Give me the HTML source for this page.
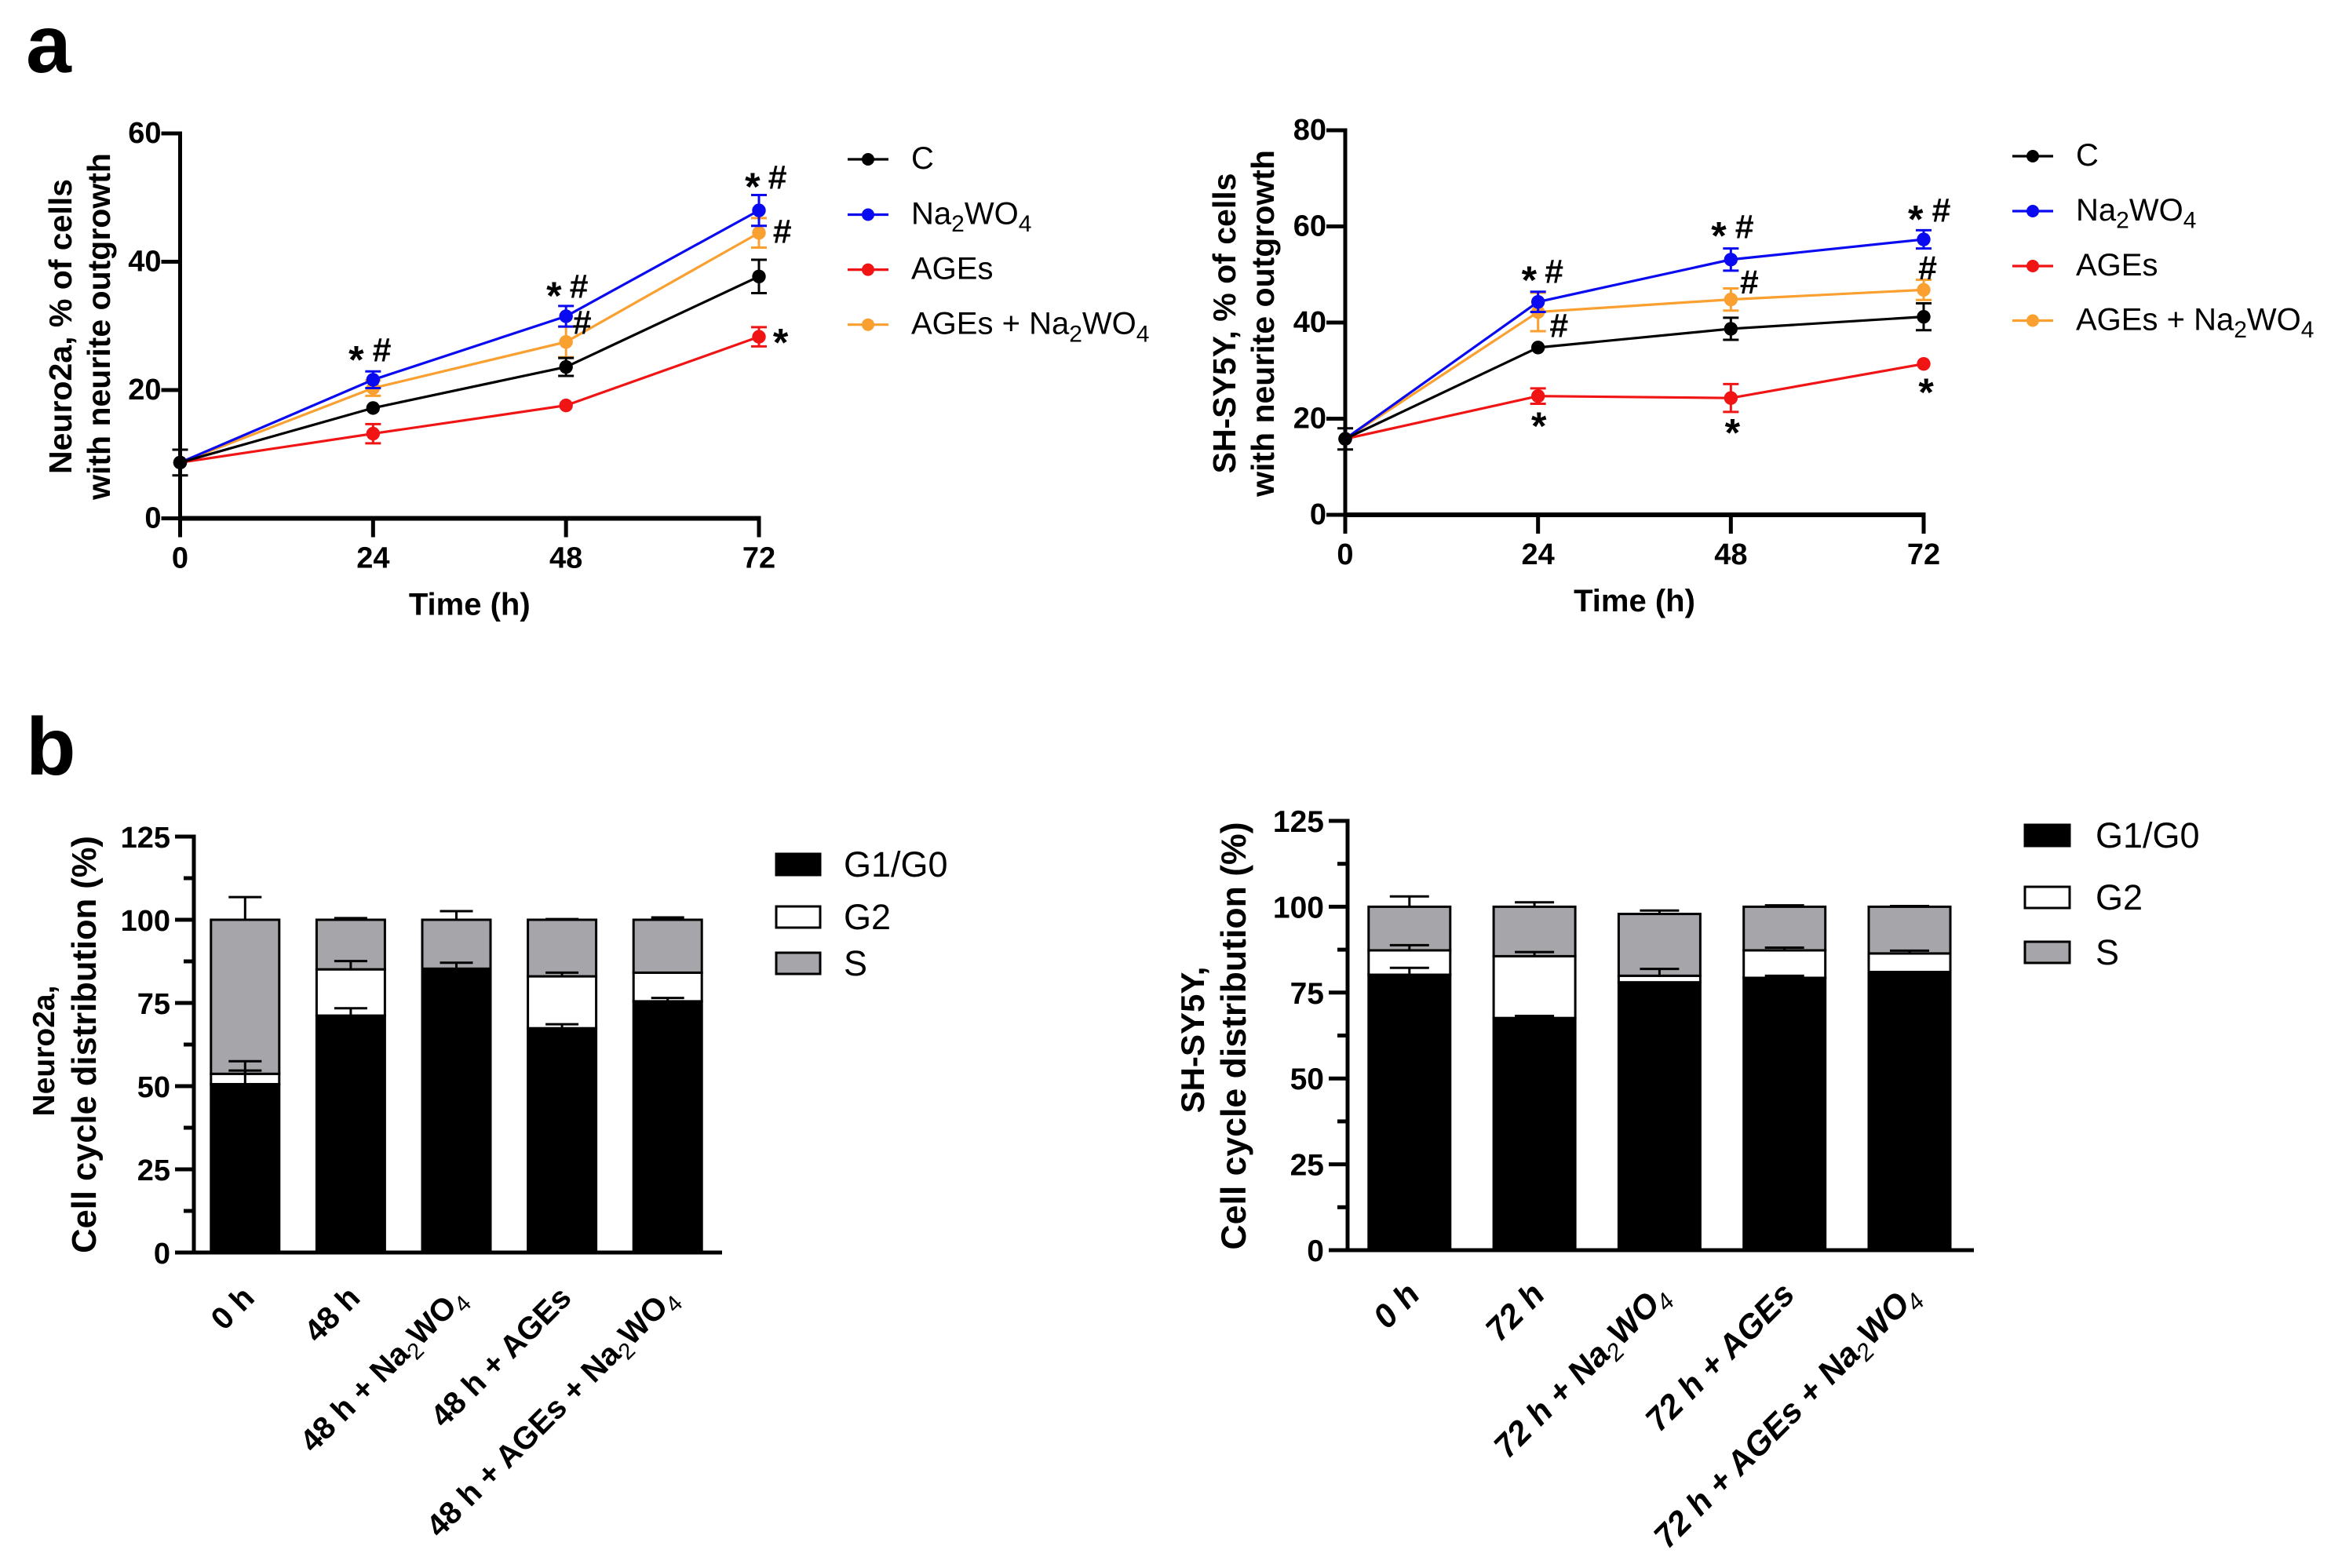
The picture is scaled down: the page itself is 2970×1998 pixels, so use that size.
<!DOCTYPE html>
<html lang="en">
<head>
<meta charset="utf-8">
<title>Neurite outgrowth and cell cycle distribution</title>
<style>
html,body{margin:0;padding:0;background:#fff}
svg{display:block}
text{font-family:"Liberation Sans",Arial,sans-serif;fill:#000}
.b{font-weight:700}
</style>
</head>
<body>
<svg id="figure" xmlns="http://www.w3.org/2000/svg" width="2970" height="1998" viewBox="0 0 2970 1998">
<rect width="2970" height="1998" fill="#fff"/>
<text class="b" x="33" y="92" font-size="104">a</text>
<text class="b" x="33" y="987" font-size="104">b</text>
<g id="c1"></g>
<g id="c2"></g>
<g id="c3"></g>
<g id="c4"></g>
</svg>
<script>
// ---------- Line chart data ----------
const hours = [0, 24, 48, 72];
const neuroYTicks = [0, 20, 40, 60];
const neuroC = [8.7, 17.2, 23.6, 37.7];
const neuroCErr = [2.0, 0, 1.4, 2.6];
const neuroNa = [8.7, 21.6, 31.5, 48.0];
const neuroNaErr = [0, 1.3, 1.6, 2.4];
const neuroAges = [8.7, 13.2, 17.6, 28.3];
const neuroAgesErr = [0, 1.5, 0, 1.5];
const neuroAgesNa = [8.7, 20.3, 27.5, 44.5];
const neuroAgesNaErr = [0, 1.2, 2.4, 2.3];
const neuroMarks = [
  ['*', 21.9, 25.8], ['#', 25.1, 26.3], ['*', 46.5, 35.8], ['#', 49.6, 36.2],
  ['*', 71.2, 52.8], ['#', 74.3, 53.2], ['#', 50, 30.6], ['#', 74.9, 44.8], ['*', 74.7, 28.5]
];
const shYTicks = [0, 20, 40, 60, 80];
const shC = [15.8, 34.8, 38.7, 41.2];
const shCErr = [2.2, 0, 2.3, 2.8];
const shNa = [15.8, 44.3, 53.1, 57.3];
const shNaErr = [0, 2.1, 2.3, 1.9];
const shAges = [15.8, 24.7, 24.3, 31.4];
const shAgesErr = [0, 1.6, 2.9, 0];
const shAgesNa = [15.8, 42.2, 44.8, 46.8];
const shAgesNaErr = [0, 4.0, 2.3, 2.1];
const shMarks = [
  ['*', 22.9, 50.3], ['#', 26, 50.7], ['#', 26.6, 39.4], ['*', 46.5, 59.5], ['#', 49.7, 60],
  ['#', 50.3, 48.5], ['*', 71, 62.9], ['#', 74.2, 63.4], ['#', 72.5, 51.4],
  ['*', 24.1, 19.9], ['*', 48.2, 18.5], ['*', 72.3, 26.9]
];
const lineLegend = ['C', 'Na2WO4', 'AGEs', 'AGEs + Na2WO4'];

// ---------- Stacked bar data ----------
const barYTicks = [0, 25, 50, 75, 100, 125];
const barMinorTicks = [12.5, 37.5, 62.5, 87.5, 112.5];
const stackLegend = ['G1/G0', 'G2', 'S'];
const neuroGroups = ['0 h', '48 h', '48 h + Na2WO4', '48 h + AGEs', '48 h + AGEs + Na2WO4'];
const neuroG1 = [50.6, 71.2, 85.1, 67.4, 75.5];
const neuroG2 = [3.1, 13.9, 0.2, 15.6, 8.6];
const neuroS = [46.3, 14.9, 14.7, 17.0, 15.9];
const neuroG1Err = [4.1, 2.2, 0, 1.2, 1.0];
const neuroG2Err = [3.8, 2.5, 1.8, 1.1, 0];
const neuroSErr = [6.8, 0.5, 2.6, 0.2, 0.7];
const shGroups = ['0 h', '72 h', '72 h + Na2WO4', '72 h + AGEs', '72 h + AGEs + Na2WO4'];
const shG1 = [80.2, 67.6, 78.0, 79.3, 81.0];
const shG2 = [7.1, 18.0, 1.9, 8.0, 5.4];
const shS = [12.7, 14.4, 18.0, 12.7, 13.6];
const shG1Err = [2.0, 0.6, 0, 0.6, 0];
const shG2Err = [1.5, 1.2, 2.0, 0.8, 0.8];
const shSErr = [3.0, 1.3, 1.0, 0.4, 0.2];

const NS = 'http://www.w3.org/2000/svg';
function mk(parent, tag, attrs) {
  const e = document.createElementNS(NS, tag);
  for (const k in attrs) e.setAttribute(k, attrs[k]);
  parent.appendChild(e);
  return e;
}
function fillChem(t, s, subSize, thin) {
  const parts = s.split(/(Na2WO4)/);
  parts.forEach(p => {
    if (p === 'Na2WO4') {
      const a = mk(t, 'tspan', {}); a.textContent = 'Na';
      const b = mk(t, 'tspan', {dy: subSize * 0.32, 'font-size': subSize}); b.textContent = '2';
      const c = mk(t, 'tspan', {dy: -subSize * 0.32}); c.textContent = 'WO';
      const d = mk(t, 'tspan', {dy: subSize * 0.32, 'font-size': subSize}); d.textContent = '4';
      if (thin) { b.setAttribute('font-weight', '400'); d.setAttribute('font-weight', '400'); }
    } else if (p) {
      const a = mk(t, 'tspan', {}); a.textContent = p;
    }
  });
}
function axisLine(g, x1, y1, x2, y2, w) {
  return mk(g, 'line', {x1, y1, x2, y2, stroke: '#000', 'stroke-width': w});
}

function drawLineChart(cfg) {
  const g = document.getElementById(cfg.id);
  const sx = h => cfg.x0 + h / 72 * (cfg.x72 - cfg.x0);
  const sy = v => cfg.y0 - v / cfg.yMax * (cfg.y0 - cfg.yTop);
  const yA = axisLine(g, cfg.x0, sy(0) + 2, cfg.x0, sy(cfg.yMax) - 2.5, 5);
  
  
  const xA = axisLine(g, cfg.x0 - 2.5, sy(0), sx(72) + 2.5, sy(0), 6);
  
  
  cfg.yTicks.forEach(v => {
    const t = axisLine(g, cfg.x0 - 24, sy(v), cfg.x0, sy(v), 5);
    
    
    const l = mk(g, 'text', {class: 'b', x: cfg.x0 - 24, y: sy(v) + 12, 'font-size': 38, 'text-anchor': 'end'});
    l.textContent = v;
    
    
  });
  hours.forEach(h => {
    const t = axisLine(g, sx(h), sy(0), sx(h), sy(0) + 24, 5);
    
    
    const l = mk(g, 'text', {class: 'b', x: sx(h), y: sy(0) + 63, 'font-size': 38, 'text-anchor': 'middle'});
    l.textContent = h;
    
    
  });
  const xt = mk(g, 'text', {class: 'b', x: (sx(0) + sx(72)) / 2, y: sy(0) + 123, 'font-size': 40, 'text-anchor': 'middle'});
  xt.textContent = 'Time (h)';
  
  
  cfg.yTitle.forEach((s, i) => {
    const t = mk(g, 'text', {class: 'b', transform: `translate(${cfg.titleX[i]},${cfg.titleY}) rotate(-90)`, 'font-size': 41, 'text-anchor': 'middle'});
    t.textContent = s;
    
    
  });
  cfg.series.forEach(s => {
    const pts = hours.map((h, i) => sx(h) + ',' + sy(s.values[i])).join(' ');
    const pl = mk(g, 'polyline', {points: pts, fill: 'none', stroke: s.color, 'stroke-width': 3.2});
    
    
    hours.forEach((h, i) => {
      const e = s.err[i];
      if (e > 0) {
        const eb = mk(g, 'path', {
          d: `M${sx(h)} ${sy(s.values[i] - e)}V${sy(s.values[i] + e)}M${sx(h) - 10} ${sy(s.values[i] + e)}h20M${sx(h) - 10} ${sy(s.values[i] - e)}h20`,
          stroke: s.color, 'stroke-width': 3, fill: 'none'});
        
        
      }
      const p = mk(g, 'circle', {cx: sx(h), cy: sy(s.values[i]), r: 8.7, fill: s.color});
      
      
    });
  });
  cfg.marks.forEach(m => {
    const isStar = m[0] === '*';
    const t = mk(g, 'text', {class: 'b', x: sx(m[1]), y: sy(m[2]) + (isStar ? 26 : 15), 'font-size': isStar ? 50 : 43, 'text-anchor': 'middle'});
    t.textContent = m[0];
    
    
  });
  cfg.series.slice().sort((a, b) => a.order - b.order).forEach((s, i) => {
    const y = cfg.legY[i];
    const ln = mk(g, 'line', {x1: cfg.legX, y1: y, x2: cfg.legX + 52, y2: y, stroke: s.color, 'stroke-width': 3.2});
    
    
    const c = mk(g, 'circle', {cx: cfg.legX + 26, cy: y, r: 8, fill: s.color});
    
    
    const t = mk(g, 'text', {x: cfg.legX + 81, y: y + 12, 'font-size': 40});
    fillChem(t, lineLegend[i], 30, false);
    
    
  });
}

function drawBarChart(cfg) {
  const g = document.getElementById(cfg.id);
  const sy = v => cfg.y0 - v / 125 * (cfg.y0 - cfg.yTop);
  const sx = i => cfg.firstX + i * cfg.step;
  const colors = ['#000', '#fff', '#a6a5aa'];
  const keys = ['g1', 'g2', 's'];
  cfg.groups.forEach((name, i) => {
    let base = 0;
    const stacks = [cfg.g1[i], cfg.g2[i], cfg.s[i]];
    const errs = [cfg.g1e[i], cfg.g2e[i], cfg.se[i]];
    stacks.forEach((v, k) => {
      const r = mk(g, 'rect', {x: sx(i) - cfg.barW / 2, y: sy(base + v), width: cfg.barW, height: sy(base) - sy(base + v), fill: colors[k], stroke: '#000', 'stroke-width': 3});
      
      
      base += v;
    });
    base = 0;
    stacks.forEach((v, k) => {
      base += v;
      if (errs[k] > 0) {
        const e = mk(g, 'path', {d: `M${sx(i)} ${sy(base)}V${sy(base + errs[k])}M${sx(i) - cfg.capW} ${sy(base + errs[k])}h${2 * cfg.capW}`, stroke: '#000', 'stroke-width': 3, fill: 'none'});
        
        
      }
    });
    const t = mk(g, 'text', {class: 'b', transform: `translate(${sx(i) + cfg.labDX},${cfg.y0 + cfg.labDY}) rotate(-45)${cfg.italic ? ' skewX(-8)' : ''}`, 'font-size': cfg.labFont, 'text-anchor': 'end'});
    fillChem(t, name, cfg.labFont * 0.73, true);
    
    
  });
  const yA = axisLine(g, cfg.x0, cfg.y0 + 2.5, cfg.x0, sy(125) - 2.5, 5);
  
  
  const xA = axisLine(g, cfg.x0 - 2.5, cfg.y0, cfg.xEnd, cfg.y0, 5);
  
  
  barYTicks.forEach(v => {
    const t = axisLine(g, cfg.x0 - 24, sy(v), cfg.x0, sy(v), 5);
    
    
    const l = mk(g, 'text', {class: 'b', x: cfg.x0 - 30, y: sy(v) + 14, 'font-size': cfg.tickFont, 'text-anchor': 'end'});
    l.textContent = v;
    
    
  });
  barMinorTicks.forEach(v => {
    const t = axisLine(g, cfg.x0 - 13, sy(v), cfg.x0, sy(v), 5);
    
    
  });
  cfg.titles.forEach(o => {
    const t = mk(g, 'text', {class: 'b', transform: `translate(${o.x},${o.y}) rotate(-90)`, 'font-size': o.size, 'text-anchor': 'middle'});
    t.textContent = o.text;
    
    
  });
  stackLegend.forEach((s, k) => {
    const sw = mk(g, 'rect', {x: cfg.legX, y: cfg.legY[k], width: cfg.legW, height: 27, fill: colors[k], stroke: '#000', 'stroke-width': 3});
    
    
    const t = mk(g, 'text', {x: cfg.legTextX, y: cfg.legY[k] + 29, 'font-size': 45});
    t.textContent = s;
    
    
  });
}

drawLineChart({
  id: 'c1', x0: 229.5, x72: 967, y0: 660.5, yTop: 170, yMax: 60, yTicks: neuroYTicks,
  yTitle: ['Neuro2a, % of cells', 'with neurite outgrowth'], titleX: [91, 140], titleY: 416,
  marks: neuroMarks, legX: 1080, legY: [203, 273.5, 343.6, 413.7],
  series: [
    {key: 'ages-na', order: 3, color: '#f9a030', values: neuroAgesNa, err: neuroAgesNaErr},
    {key: 'ages', order: 2, color: '#f01414', values: neuroAges, err: neuroAgesErr},
    {key: 'na', order: 1, color: '#0a0af0', values: neuroNa, err: neuroNaErr},
    {key: 'c', order: 0, color: '#000', values: neuroC, err: neuroCErr}
  ]
});
drawLineChart({
  id: 'c2', x0: 1714, x72: 2451, y0: 656, yTop: 166, yMax: 80, yTicks: shYTicks,
  yTitle: ['SH-SY5Y, % of cells', 'with neurite outgrowth'], titleX: [1574, 1623], titleY: 412,
  marks: shMarks, legX: 2564, legY: [199, 269, 339, 408.5],
  series: [
    {key: 'ages-na', order: 3, color: '#f9a030', values: shAgesNa, err: shAgesNaErr},
    {key: 'ages', order: 2, color: '#f01414', values: shAges, err: shAgesErr},
    {key: 'na', order: 1, color: '#0a0af0', values: shNa, err: shNaErr},
    {key: 'c', order: 0, color: '#000', values: shC, err: shCErr}
  ]
});
drawBarChart({
  id: 'c3', x0: 247, xEnd: 920, y0: 1596, yTop: 1066, firstX: 312.3, step: 134.6, barW: 87, capW: 21,
  groups: neuroGroups, g1: neuroG1, g2: neuroG2, s: neuroS, g1e: neuroG1Err, g2e: neuroG2Err, se: neuroSErr,
  labDX: 14, labDY: 60, labFont: 40, tickFont: 38, italic: false,
  titles: [{text: 'Neuro2a,', x: 69, y: 1339, size: 39}, {text: 'Cell cycle distribution (%)', x: 122, y: 1331, size: 43.5}],
  legX: 989, legW: 56, legY: [1088, 1155, 1214], legTextX: 1075
});
drawBarChart({
  id: 'c4', x0: 1717, xEnd: 2515, y0: 1593, yTop: 1046, firstX: 1795.8, step: 159.3, barW: 104, capW: 25,
  groups: shGroups, g1: shG1, g2: shG2, s: shS, g1e: shG1Err, g2e: shG2Err, se: shSErr,
  labDX: 14, labDY: 60, labFont: 42.5, tickFont: 39, italic: true,
  titles: [{text: 'SH-SY5Y,', x: 1534, y: 1325, size: 42}, {text: 'Cell cycle distribution (%)', x: 1587, y: 1320, size: 44.6}],
  legX: 2580, legW: 57, legY: [1051, 1130, 1200], legTextX: 2670
});
</script>
</body>
</html>
